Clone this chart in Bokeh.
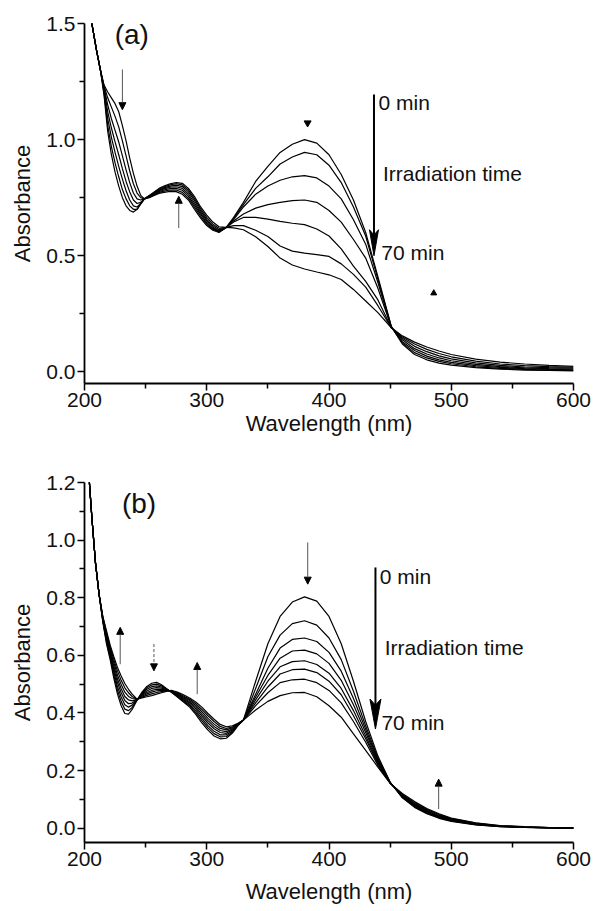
from bokeh.plotting import figure
from bokeh.layouts import column
from bokeh.models import Range1d, FixedTicker, NumeralTickFormatter, Arrow, NormalHead
from bokeh.core.properties import value
from bokeh.embed import file_html
from bokeh.resources import INLINE

# ---------------- panel (a) data ----------------
wl_a = [205, 210, 213, 216, 219, 222, 225, 228, 231, 234, 237, 240, 243, 246, 249,
        253, 257, 261, 265, 270, 275, 280, 285, 290, 295, 300, 305, 310, 316, 322,
        330, 340, 350, 360, 370, 380, 390, 400, 410, 420, 430, 440, 451,
        460, 470, 480, 490, 500, 520, 540, 560, 580, 600]

a_curve1 = [1.53, 1.38, 1.30, 1.235, 1.205, 1.18, 1.155, 1.12, 1.06, 0.995, 0.92, 0.855, 0.80, 0.76, 0.745,
            0.75, 0.76, 0.768, 0.773, 0.777, 0.776, 0.765, 0.74, 0.70, 0.662, 0.63, 0.61, 0.60, 0.622, 0.665,
            0.73, 0.82, 0.885, 0.945, 0.98, 1.0, 0.985, 0.935, 0.85, 0.74, 0.60, 0.41, 0.195,
            0.12, 0.075, 0.052, 0.038, 0.029, 0.018, 0.012, 0.008, 0.006, 0.004]
a_curve2 = [1.53, 1.38, 1.30, 1.23, 1.18, 1.14, 1.10, 1.055, 0.995, 0.93, 0.865, 0.81, 0.77, 0.75, 0.745,
            0.752, 0.762, 0.772, 0.778, 0.783, 0.783, 0.773, 0.748, 0.709, 0.67, 0.636, 0.614, 0.602, 0.622, 0.66,
            0.72, 0.79, 0.84, 0.895, 0.925, 0.945, 0.935, 0.89, 0.815, 0.71, 0.585, 0.40, 0.195,
            0.125, 0.083, 0.06, 0.045, 0.035, 0.022, 0.015, 0.011, 0.008, 0.006]
a_curve3 = [1.53, 1.38, 1.30, 1.225, 1.15, 1.09, 1.04, 0.99, 0.93, 0.87, 0.815, 0.77, 0.745, 0.74, 0.745,
            0.754, 0.765, 0.776, 0.783, 0.789, 0.79, 0.782, 0.757, 0.718, 0.678, 0.643, 0.618, 0.605, 0.622, 0.655,
            0.71, 0.765, 0.80, 0.825, 0.84, 0.845, 0.835, 0.80, 0.745, 0.655, 0.55, 0.385, 0.193,
            0.13, 0.092, 0.068, 0.052, 0.041, 0.027, 0.019, 0.014, 0.011, 0.009]
a_curve4 = [1.53, 1.38, 1.30, 1.22, 1.12, 1.05, 0.99, 0.935, 0.875, 0.82, 0.775, 0.74, 0.725, 0.73, 0.745,
            0.756, 0.768, 0.78, 0.788, 0.795, 0.797, 0.79, 0.766, 0.727, 0.686, 0.65, 0.623, 0.608, 0.622, 0.65,
            0.68, 0.705, 0.72, 0.73, 0.737, 0.74, 0.73, 0.695, 0.645, 0.57, 0.49, 0.36, 0.192,
            0.138, 0.10, 0.077, 0.06, 0.048, 0.032, 0.023, 0.017, 0.014, 0.012]
a_curve5 = [1.53, 1.38, 1.30, 1.21, 1.09, 1.01, 0.945, 0.885, 0.83, 0.78, 0.74, 0.715, 0.71, 0.725, 0.745,
            0.757, 0.77, 0.783, 0.792, 0.80, 0.804, 0.798, 0.775, 0.737, 0.694, 0.657, 0.629, 0.612, 0.622, 0.645,
            0.665, 0.665, 0.658, 0.648, 0.64, 0.634, 0.615, 0.585, 0.53, 0.455, 0.39, 0.31, 0.19,
            0.145, 0.11, 0.087, 0.069, 0.056, 0.039, 0.028, 0.021, 0.018, 0.016]
a_curve6 = [1.53, 1.38, 1.30, 1.20, 1.06, 0.97, 0.90, 0.84, 0.785, 0.745, 0.715, 0.70, 0.70, 0.722, 0.745,
            0.758, 0.772, 0.786, 0.796, 0.805, 0.81, 0.805, 0.783, 0.746, 0.702, 0.665, 0.636, 0.618, 0.622, 0.63,
            0.63, 0.61, 0.583, 0.542, 0.52, 0.511, 0.505, 0.497, 0.465, 0.42, 0.365, 0.285, 0.19,
            0.15, 0.12, 0.097, 0.079, 0.065, 0.046, 0.034, 0.027, 0.023, 0.02]
a_curve7 = [1.53, 1.38, 1.30, 1.19, 1.035, 0.935, 0.86, 0.80, 0.75, 0.715, 0.695, 0.688, 0.70, 0.725, 0.745,
            0.76, 0.775, 0.79, 0.80, 0.81, 0.815, 0.812, 0.79, 0.755, 0.71, 0.675, 0.645, 0.625, 0.622, 0.62,
            0.612, 0.582, 0.54, 0.49, 0.46, 0.443, 0.43, 0.418, 0.398, 0.355, 0.305, 0.255, 0.19,
            0.155, 0.128, 0.107, 0.09, 0.075, 0.055, 0.042, 0.034, 0.028, 0.024]

# ---------------- panel (b) data ----------------
wl_b = [203, 206, 209, 212, 215, 218, 221, 224, 227, 230, 233, 236, 239,
        243, 247, 251, 255, 259, 263, 267, 271,
        276, 281, 286, 291, 296, 301, 306, 311, 316, 321, 326,
        330, 340, 350, 360, 370, 380, 390, 400, 410, 420, 430, 440, 450, 460, 470, 480, 490, 500,
        520, 540, 560, 580, 600]

b_curve1 = [1.26, 1.08, 0.92, 0.81, 0.715, 0.64, 0.585, 0.52, 0.465, 0.425, 0.398, 0.396, 0.412,
            0.444, 0.472, 0.492, 0.503, 0.506, 0.498, 0.485, 0.472,
            0.455, 0.438, 0.42, 0.395, 0.365, 0.34, 0.32, 0.31, 0.312, 0.33, 0.358,
            0.375, 0.51, 0.64, 0.735, 0.785, 0.803, 0.788, 0.735, 0.64, 0.51, 0.37, 0.25, 0.16, 0.105, 0.072, 0.05, 0.034, 0.023,
            0.011, 0.005, 0.002, 0.001, 0.0]
b_curve2 = [1.26, 1.08, 0.92, 0.81, 0.718, 0.647, 0.592, 0.531, 0.478, 0.44, 0.413, 0.408, 0.419,
            0.445, 0.469, 0.487, 0.497, 0.5, 0.494, 0.483, 0.473,
            0.457, 0.441, 0.425, 0.401, 0.373, 0.348, 0.328, 0.317, 0.318, 0.334, 0.359,
            0.375, 0.485, 0.595, 0.67, 0.71, 0.72, 0.705, 0.66, 0.585, 0.475, 0.355, 0.243, 0.159, 0.107, 0.074, 0.052, 0.036, 0.025,
            0.012, 0.005, 0.002, 0.001, 0.0]
b_curve3 = [1.26, 1.08, 0.92, 0.81, 0.721, 0.653, 0.599, 0.542, 0.491, 0.455, 0.428, 0.42, 0.427,
            0.445, 0.466, 0.482, 0.491, 0.494, 0.49, 0.482, 0.474,
            0.46, 0.445, 0.429, 0.407, 0.381, 0.356, 0.336, 0.324, 0.324, 0.337, 0.36,
            0.375, 0.465, 0.555, 0.625, 0.655, 0.66, 0.648, 0.61, 0.545, 0.45, 0.343, 0.238, 0.158, 0.109, 0.077, 0.054, 0.038, 0.026,
            0.013, 0.006, 0.003, 0.001, 0.0]
b_curve4 = [1.26, 1.08, 0.92, 0.81, 0.724, 0.66, 0.606, 0.553, 0.505, 0.47, 0.443, 0.432, 0.434,
            0.446, 0.463, 0.476, 0.485, 0.488, 0.486, 0.48, 0.475,
            0.462, 0.448, 0.434, 0.414, 0.389, 0.365, 0.345, 0.332, 0.329, 0.341, 0.361,
            0.375, 0.455, 0.53, 0.59, 0.615, 0.618, 0.605, 0.572, 0.513, 0.428, 0.332, 0.233, 0.158, 0.111, 0.079, 0.056, 0.04, 0.028,
            0.014, 0.006, 0.003, 0.001, 0.0]
b_curve5 = [1.26, 1.08, 0.92, 0.81, 0.727, 0.666, 0.613, 0.563, 0.518, 0.484, 0.457, 0.445, 0.442,
            0.446, 0.461, 0.471, 0.478, 0.482, 0.482, 0.479, 0.475,
            0.464, 0.452, 0.438, 0.42, 0.396, 0.373, 0.353, 0.339, 0.335, 0.344, 0.362,
            0.375, 0.445, 0.51, 0.56, 0.578, 0.581, 0.568, 0.538, 0.485, 0.408, 0.32, 0.228, 0.157, 0.113, 0.082, 0.059, 0.042, 0.03,
            0.015, 0.007, 0.003, 0.002, 0.001]
b_curve6 = [1.26, 1.08, 0.92, 0.81, 0.73, 0.672, 0.62, 0.574, 0.531, 0.499, 0.472, 0.457, 0.45,
            0.447, 0.458, 0.466, 0.472, 0.477, 0.478, 0.478, 0.476,
            0.467, 0.455, 0.443, 0.426, 0.404, 0.381, 0.361, 0.346, 0.341, 0.348, 0.363,
            0.375, 0.435, 0.49, 0.535, 0.55, 0.552, 0.54, 0.51, 0.463, 0.39, 0.31, 0.223, 0.157, 0.115, 0.085, 0.062, 0.044, 0.031,
            0.016, 0.007, 0.004, 0.002, 0.001]
b_curve7 = [1.26, 1.08, 0.92, 0.81, 0.733, 0.679, 0.628, 0.585, 0.545, 0.513, 0.487, 0.47, 0.457,
            0.447, 0.455, 0.461, 0.466, 0.471, 0.474, 0.476, 0.477,
            0.47, 0.459, 0.447, 0.432, 0.412, 0.39, 0.37, 0.353, 0.346, 0.351, 0.364,
            0.375, 0.425, 0.47, 0.505, 0.515, 0.517, 0.505, 0.478, 0.435, 0.37, 0.298, 0.218, 0.156, 0.117, 0.088, 0.065, 0.047, 0.033,
            0.017, 0.008, 0.004, 0.002, 0.001]
b_curve8 = [1.26, 1.08, 0.92, 0.81, 0.735, 0.685, 0.635, 0.595, 0.558, 0.528, 0.502, 0.482, 0.465,
            0.448, 0.452, 0.456, 0.46, 0.465, 0.47, 0.475, 0.478,
            0.472, 0.463, 0.452, 0.438, 0.42, 0.398, 0.378, 0.36, 0.352, 0.355, 0.365,
            0.375, 0.41, 0.44, 0.46, 0.47, 0.471, 0.456, 0.425, 0.385, 0.327, 0.27, 0.212, 0.155, 0.12, 0.092, 0.068, 0.05, 0.035,
            0.018, 0.009, 0.005, 0.002, 0.001]

# ticks
x_ticks = [200, 300, 400, 500, 600]
x_minor = [250, 350, 450, 550]
ya_ticks = [0.0, 0.5, 1.0, 1.5]
ya_minor = [0.25, 0.75, 1.25]
yb_ticks = [0.0, 0.2, 0.4, 0.6, 0.8, 1.0, 1.2]
yb_minor = [0.1, 0.3, 0.5, 0.7, 0.9, 1.1]

# annotation anchors (data units)
a_big_arrow = dict(x=436.8, y0=1.194, y1=0.50)
b_big_arrow = dict(x=438.0, y0=0.905, y1=0.344)
a_texts_x = [440.5, 444.2, 442.8]
a_texts_y = [1.16, 0.853, 0.513]
b_texts_x = [441.5, 445.6, 442.9]
b_texts_y = [0.874, 0.628, 0.367]
time_texts = ["0 min", "Irradiation time", "70 min"]

FONT = "Liberation Sans"


def style(p, yticks, yminor, xlab_standoff):
    p.xaxis.ticker = FixedTicker(ticks=x_ticks, minor_ticks=x_minor)
    p.yaxis.ticker = FixedTicker(ticks=yticks, minor_ticks=yminor)
    p.yaxis.formatter = NumeralTickFormatter(format="0.0")
    for ax in (p.xaxis[0], p.yaxis[0]):
        ax.axis_line_width = 1.8
        ax.axis_line_color = "black"
        ax.major_tick_in = 0
        ax.major_tick_out = 7
        ax.minor_tick_in = 0
        ax.minor_tick_out = 5
        ax.major_tick_line_width = 1.5
        ax.minor_tick_line_width = 1.5
        ax.major_tick_line_color = "black"
        ax.minor_tick_line_color = "black"
        ax.major_label_text_font = FONT
        ax.major_label_text_font_size = "21px"
        ax.major_label_text_color = "#111111"
        ax.major_label_standoff = 2
        ax.axis_label_text_font = FONT
        ax.axis_label_text_font_size = "22px"
        ax.axis_label_text_font_style = "normal"
        ax.axis_label_text_color = "#111111"
    p.yaxis.axis_label_standoff = 8
    p.xaxis.axis_label_standoff = xlab_standoff
    p.xgrid.visible = False
    p.ygrid.visible = False
    p.outline_line_color = None
    p.background_fill_color = "white"
    p.border_fill_color = "white"


def big_arrow(p, arr, head_len, head_half):
    x, y0, y1 = arr["x"], arr["y0"], arr["y1"]
    p.segment(x0=[x], y0=[y0], x1=[x], y1=[y1 + head_len * 0.6], line_color="black", line_width=2)
    p.patch(x=[x - head_half, x, x + head_half, x], y=[y1 + head_len, y1 + head_len * 0.8, y1 + head_len, y1],
            fill_color="black", line_color="black", line_width=1)


def small_arrow(p, x, y0, y1, dash="solid"):
    p.add_layout(Arrow(end=NormalHead(size=7, fill_color="black", line_color="black", line_width=1),
                       x_start=x, y_start=y0, x_end=x, y_end=y1,
                       line_color="#555555", line_width=1, line_dash=dash))


# ---------------- figure (a) ----------------
pa = figure(width=593, height=443, output_backend="svg", toolbar_location=None,
            x_range=Range1d(200, 600), y_range=Range1d(-0.05, 1.5),
            min_border_left=82, min_border_right=20, min_border_top=23, min_border_bottom=60,
            x_axis_label="Wavelength (nm)", y_axis_label="Absorbance")
style(pa, ya_ticks, ya_minor, 1)
for ys in [a_curve1, a_curve2, a_curve3, a_curve4, a_curve5, a_curve6, a_curve7]:
    pa.line(wl_a, ys, line_color="black", line_width=1.2)

big_arrow(pa, a_big_arrow, 0.112, 3.7)
pa.text(x=a_texts_x, y=a_texts_y, text=time_texts, text_font=value(FONT),
        text_font_size=value("21px"), text_baseline="middle", text_align="left", text_color="#111111")
pa.text(x=[238.7], y=[1.453], text=["(a)"], text_font=value(FONT),
        text_font_size=value("28px"), text_baseline="middle", text_align="center", text_color="#111111")
small_arrow(pa, 231.0, 1.302, 1.129)
small_arrow(pa, 277.1, 0.619, 0.756)
pa.scatter(x=[382.5], y=[1.072], marker="inverted_triangle", size=7, fill_color="black", line_color="black")
pa.scatter(x=[485.7], y=[0.339], marker="triangle", size=6, fill_color="black", line_color="black")

# ---------------- figure (b) ----------------
pb = figure(width=593, height=467, output_backend="svg", toolbar_location=None,
            x_range=Range1d(200, 600), y_range=Range1d(-0.05, 1.2),
            min_border_left=84, min_border_right=16, min_border_top=39, min_border_bottom=68,
            x_axis_label="Wavelength (nm)", y_axis_label="Absorbance")
style(pb, yb_ticks, yb_minor, 10)
for ys in [b_curve1, b_curve2, b_curve3, b_curve4, b_curve5, b_curve6, b_curve7, b_curve8]:
    pb.line(wl_b, ys, line_color="black", line_width=1.2)

big_arrow(pb, b_big_arrow, 0.104, 4.5)
pb.text(x=b_texts_x, y=b_texts_y, text=time_texts, text_font=value(FONT),
        text_font_size=value("21px"), text_baseline="middle", text_align="left", text_color="#111111")
pb.text(x=[244.6], y=[1.126], text=["(b)"], text_font=value(FONT),
        text_font_size=value("28px"), text_baseline="middle", text_align="center", text_color="#111111")
small_arrow(pb, 229.2, 0.569, 0.697)
small_arrow(pb, 256.8, 0.639, 0.546, dash="3 2")
small_arrow(pb, 292.2, 0.465, 0.575)
small_arrow(pb, 382.6, 0.992, 0.847)
small_arrow(pb, 489.7, 0.066, 0.17)

layout = column(pa, pb, spacing=0)
open("out.html", "w").write(file_html(layout, INLINE))
